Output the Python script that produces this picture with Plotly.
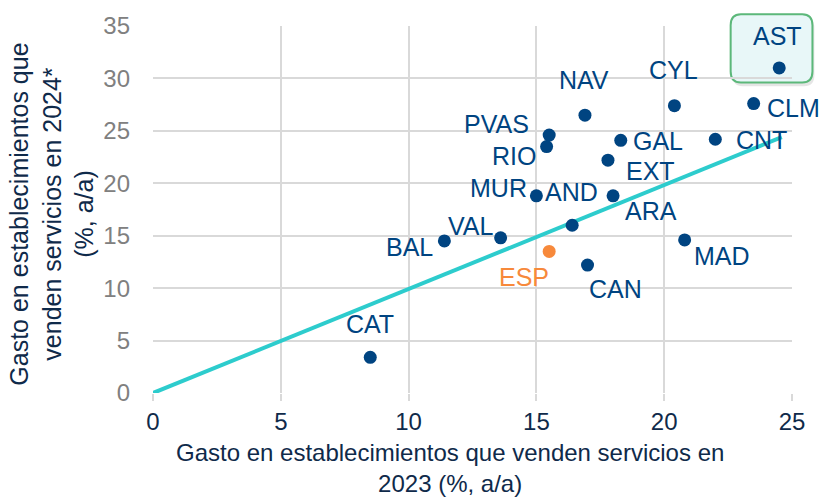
import plotly.graph_objects as go

# CCAA: gasto en establecimientos que venden servicios (% a/a)
regions = ["AST", "CYL", "CLM", "NAV", "PVAS", "RIO", "GAL", "CNT", "EXT",
           "MUR", "AND", "ARA", "VAL", "BAL", "CAN", "MAD", "CAT"]
growth_2023 = [24.5, 20.4, 23.5, 16.9, 15.5, 15.4, 18.3, 22.0, 17.8,
               15.0, 16.4, 18.0, 13.6, 11.4, 17.0, 20.8, 8.5]
growth_2024 = [31.0, 27.4, 27.6, 26.5, 24.6, 23.5, 24.1, 24.2, 22.2,
               18.8, 16.0, 18.8, 14.8, 14.5, 12.2, 14.6, 3.4]

spain_label = "ESP"
spain_2023 = [15.5]
spain_2024 = [13.5]

# linea de 45 grados
ref_x = [-0.2, 24.6]
ref_y = [-0.2, 24.4]

# desplazamiento de etiquetas en pixeles (dx, dy)
label_offsets = {
    "AST": (-2, 32), "CYL": (-1, 36), "CLM": (40, -4), "NAV": (-1, 35),
    "PVAS": (-53, 11), "RIO": (-33, -9), "GAL": (37, -1), "CNT": (46, -1),
    "EXT": (43, -11), "MUR": (-38, 8), "AND": (-1, 33), "ARA": (38, -15),
    "VAL": (-30, 12), "BAL": (-35, -6), "CAN": (28, -24), "MAD": (37, -16),
    "CAT": (0, 33), "ESP": (-25, -26),
}

NAVY = "#004481"
ORANGE = "#F7893B"
TEAL = "#2DCCCD"
DARK = "#0f2a4a"
GRID = "#d9d9d9"
FONT = "Liberation Sans, Arial, sans-serif"

fig = go.Figure()

fig.add_trace(go.Scatter(x=ref_x, y=ref_y, mode="lines",
                         line=dict(color=TEAL, width=4), hoverinfo="skip"))
fig.add_trace(go.Scatter(x=growth_2023, y=growth_2024, mode="markers",
                         marker=dict(color=NAVY, size=13), text=regions,
                         cliponaxis=False))
fig.add_trace(go.Scatter(x=spain_2023, y=spain_2024, mode="markers",
                         marker=dict(color=ORANGE, size=13), text=[spain_label],
                         cliponaxis=False))

for name, x, y in zip(regions, growth_2023, growth_2024):
    dx, dy = label_offsets[name]
    fig.add_annotation(x=x, y=y, text=name, showarrow=False, xshift=dx, yshift=dy,
                       xanchor="center", yanchor="middle",
                       font=dict(color=NAVY, size=25, family=FONT))
for x, y in zip(spain_2023, spain_2024):
    dx, dy = label_offsets[spain_label]
    fig.add_annotation(x=x, y=y, text=spain_label, showarrow=False, xshift=dx, yshift=dy,
                       xanchor="center", yanchor="middle",
                       font=dict(color=ORANGE, size=25, family=FONT))

# recuadro destacado de AST (sombra + caja redondeada)
def rounded(x0, y0, x1, y1, rx, ry):
    return (f"M{x0+rx},{y0} L{x1-rx},{y0} Q{x1},{y0} {x1},{y0+ry} "
            f"L{x1},{y1-ry} Q{x1},{y1} {x1-rx},{y1} L{x0+rx},{y1} "
            f"Q{x0},{y1} {x0},{y1-ry} L{x0},{y0+ry} Q{x0},{y0} {x0+rx},{y0} Z")

fig.add_shape(type="path", xref="paper", yref="paper", layer="below",
              path=rounded(0.907, 0.836, 1.035, 1.024, 0.016, 0.03),
              line=dict(width=0), fillcolor="rgba(0,0,0,0.10)")
fig.add_shape(type="path", xref="paper", yref="paper", layer="below",
              path=rounded(0.904, 0.846, 1.032, 1.032, 0.016, 0.03),
              line=dict(color="#5cb87a", width=2), fillcolor="#e8f7f8")

# titulos de ejes
fig.add_annotation(xref="paper", yref="paper", x=-0.158, y=0.486, textangle=-90,
                   xanchor="center", yanchor="middle",
                   text="Gasto en establecimientos que<br>venden servicios en 2024*<br>(%, a/a)",
                   showarrow=False, font=dict(color=DARK, size=25, family=FONT))
fig.add_annotation(xref="paper", yref="paper", x=0.465, y=-0.205,
                   xanchor="center", yanchor="middle",
                   text="Gasto en establecimientos que venden servicios en<br>2023 (%, a/a)",
                   showarrow=False, font=dict(color=DARK, size=24, family=FONT))

fig.update_xaxes(range=[0, 25], dtick=5, showgrid=True, gridcolor=GRID, gridwidth=2,
                 zeroline=False, ticks="outside", ticklen=7, tickcolor=GRID, tickwidth=2,
                 tickfont=dict(color=DARK, size=24, family=FONT), showline=False)
fig.update_yaxes(range=[0, 35], dtick=5, showgrid=True, gridcolor=GRID, gridwidth=2,
                 zeroline=False, ticks="", ticklabelstandoff=22,
                 tickfont=dict(color="#808080", size=24, family=FONT), showline=False)

fig.update_layout(width=819, height=498, showlegend=False,
                  margin=dict(l=153, r=27, t=23, b=105),
                  plot_bgcolor="white", paper_bgcolor="white",
                  font=dict(family=FONT))

fig.write_html("out.html", config={"displayModeBar": False},
               post_script="document.body.style.margin='0';")
